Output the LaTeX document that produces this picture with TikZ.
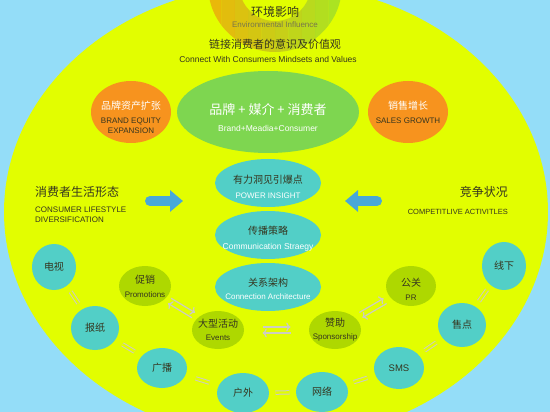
\documentclass[tikz,border=0pt]{standalone}
\usepackage{fontspec}
\setmainfont{Liberation Sans}
\newfontfamily\cjk{Noto Sans CJK SC}
\usetikzlibrary{shapes.geometric, positioning, calc, arrows.meta}

\definecolor{skyblue}{HTML}{94DDF8}
\definecolor{lime}{HTML}{E2FE00}
\definecolor{leaf}{HTML}{7ED650}
\definecolor{tangerine}{HTML}{F7931E}
\definecolor{aqua}{HTML}{52CFC7}
\definecolor{olive}{HTML}{AED800}
\definecolor{pointer}{HTML}{48A8D8}
\definecolor{ink}{HTML}{35351F}
\definecolor{dim}{HTML}{77774A}
\definecolor{mist}{HTML}{CDCDC2}
\definecolor{ringorange}{HTML}{EE8A12}
\definecolor{ringgreen}{HTML}{86D23A}

\begin{document}
\begin{tikzpicture}[x=1pt,y=-1pt,node distance=52pt,on grid,
  hubnode/.style={ellipse,fill=leaf,minimum width=182pt,minimum height=82pt},
  goalnode/.style={ellipse,fill=tangerine,minimum width=80pt,minimum height=62pt},
  corenode/.style={ellipse,fill=aqua,minimum width=106pt,minimum height=48pt},
  medianode/.style={ellipse,fill=aqua,inner sep=0pt},
  actnode/.style={ellipse,fill=olive,inner sep=0pt,minimum width=52pt,minimum height=38pt},
  words/.style={align=center,inner sep=0pt,text=ink,font=\fontsize{8}{10}\selectfont},
  zh/.style={font=\cjk\fontsize{#1}{#1}\selectfont},
  pair/.style={draw=mist,line width=1pt,double=lime,double distance=2.4pt},
  trade/.style={draw=mist,line width=1.2pt,->},
  push/.style={draw=pointer,line width=10pt,line cap=round,-{Triangle[width=21pt,length=13pt]}}]

  \useasboundingbox (0,0) rectangle (550,412);
  \clip (0,0) rectangle (550,412);
  \fill[skyblue] (0,0) rectangle (550,412);
  \fill[lime] (276,212) ellipse [x radius=272pt, y radius=228pt];

  % environment ring, in strips from orange to green
  \coordinate (ring) at (275,-15);
  \foreach \k in {0,...,9} {
    \pgfmathsetmacro\p{100-\k*11}
    \begin{scope}
      \clip (208+\k*13.4,-20) rectangle (208+\k*13.4+13.4,60);
      \fill[ringorange!\p!ringgreen,fill opacity=.6,even odd rule]
        (ring) circle [radius=67pt] (ring) circle [radius=36pt];
    \end{scope}
  }

  % heading
  \node[words,zh=12] (env) at (275,12) {环境影响};
  \node[words,text=dim] (env-en) at (275,25) {Environmental Influence};
  \node[words,zh=11] (tie) at (275,44) {链接消费者的意识及价值观};
  \node[words,font=\fontsize{8.5}{10}\selectfont] (tie-en) at (268,59) {Connect With Consumers Mindsets and Values};

  % centre column
  \node[hubnode] (brand) at (268,112) {};
  \node[goalnode] (equity) [left=137pt of brand] {};
  \node[goalnode] (growth) [right=140pt of brand] {};
  \node[corenode] (insight) [below=71pt of brand] {};
  \node[corenode] (strategy) [below=of insight] {};
  \node[corenode] (arch) [below=of strategy] {};

  \node[words,text=white,yshift=-6pt] (brand-t) at (brand)
    {{\cjk\fontsize{13}{13}\selectfont 品牌 + 媒介 + 消费者}\\[7pt]{\fontsize{8.5}{10}\selectfont Brand+Meadia+Consumer}};
  \node[words,yshift=-5pt] (equity-t) at (equity)
    {{\cjk\fontsize{10}{10}\selectfont\color{white}品牌资产扩张}\\[4pt]BRAND EQUITY\\EXPANSION};
  \node[words] (growth-t) at (growth)
    {{\cjk\fontsize{10}{10}\selectfont\color{white}销售增长}\\[4pt]SALES GROWTH};
  \node[words,yshift=-4pt] (insight-t) at (insight)
    {{\cjk\fontsize{10}{10}\selectfont 有力洞见引爆点}\\[5pt]{\color{white}POWER INSIGHT}};
  \node[words,yshift=-4pt] (strategy-t) at (strategy)
    {{\cjk\fontsize{10}{10}\selectfont 传播策略}\\[5pt]{\color{white}\fontsize{8.5}{10}\selectfont Communication Straegy}};
  \node[words,yshift=-2pt] (arch-t) at (arch)
    {{\cjk\fontsize{10}{10}\selectfont 关系架构}\\[3pt]{\color{white}Connection Architecture}};

  % sides
  \node[words,zh=12,anchor=west] (life) at (35,192) {消费者生活形态};
  \node[words,anchor=north west,align=left] (life-en) at (35,207) {CONSUMER LIFESTYLE\\DIVERSIFICATION};
  \node[words,zh=12,anchor=east] (rival) at (508,192) {竞争状况};
  \node[words,anchor=east,font=\fontsize{7.5}{9}\selectfont] (rival-en) at (508,212) {COMPETITLIVE ACTIVITLES};
  \coordinate (in-a) at (150,201);
  \coordinate (in-b) at (183,201);
  \coordinate (out-a) at (377,201);
  \coordinate (out-b) at (345,201);
  \draw[push] (in-a) -- (in-b);
  \draw[push] (out-a) -- (out-b);

  % media ring
  \node[medianode,minimum width=44pt,minimum height=46pt] (tv) at (54,267) {};
  \node[medianode,minimum width=48pt,minimum height=44pt] (paper) at (95,328) {};
  \node[medianode,minimum width=50pt,minimum height=40pt] (radio) at (162,368) {};
  \node[medianode,minimum width=52pt,minimum height=40pt] (outdoor) at (243,393) {};
  \node[medianode,minimum width=52pt,minimum height=40pt] (web) at (322,392) {};
  \node[medianode,minimum width=50pt,minimum height=42pt] (sms) at (399,368) {};
  \node[medianode,minimum width=48pt,minimum height=44pt] (shop) at (462,325) {};
  \node[medianode,minimum width=44pt,minimum height=48pt] (offline) at (504,266) {};
  \node[words,zh=10] (tv-t) at (tv) {电视};
  \node[words,zh=10] (paper-t) at (paper) {报纸};
  \node[words,zh=10] (radio-t) at (radio) {广播};
  \node[words,zh=10] (outdoor-t) at (outdoor) {户外};
  \node[words,zh=10] (web-t) at (web) {网络};
  \node[words,font=\fontsize{9.5}{10}\selectfont] (sms-t) at (sms) {SMS};
  \node[words,zh=10] (shop-t) at (shop) {售点};
  \node[words,zh=10] (offline-t) at (offline) {线下};

  \node[actnode,minimum height=40pt] (promo) at (145,286) {};
  \node[actnode] (events) at (218,330) {};
  \node[actnode] (sponsor) at (335,330) {};
  \node[actnode,minimum width=50pt,minimum height=40pt] (pr) at (411,286) {};
  \node[words] (promo-t) at (promo) {{\cjk\fontsize{10}{10}\selectfont 促销}\\[4pt]Promotions};
  \node[words] (events-t) at (events) {{\cjk\fontsize{10}{10}\selectfont 大型活动}\\[3pt]Events};
  \node[words] (sponsor-t) at (sponsor) {{\cjk\fontsize{10}{10}\selectfont 赞助}\\[3pt]Sponsorship};
  \node[words,yshift=-3pt] (pr-t) at (pr) {{\cjk\fontsize{10}{10}\selectfont 公关}\\[4pt]PR};

  \foreach \a/\b in {tv/paper,paper/radio,radio/outdoor,outdoor/web,web/sms,sms/shop,shop/offline}
    \draw[pair] ($(\a)!.5!(\b)!7pt!(\a)$) -- ($(\a)!.5!(\b)!7pt!(\b)$);
  \foreach \a/\b in {promo/events,events/sponsor,sponsor/pr} {
    \draw[trade] ($(\a)!.5!(\b)!14pt!(\a)!3pt!90:(\b)$) -- ($(\a)!.5!(\b)!14pt!(\b)!3pt!-90:(\a)$);
    \draw[trade] ($(\a)!.5!(\b)!14pt!(\b)!3pt!90:(\a)$) -- ($(\a)!.5!(\b)!14pt!(\a)!3pt!-90:(\b)$);
  }
\end{tikzpicture}
\end{document}
